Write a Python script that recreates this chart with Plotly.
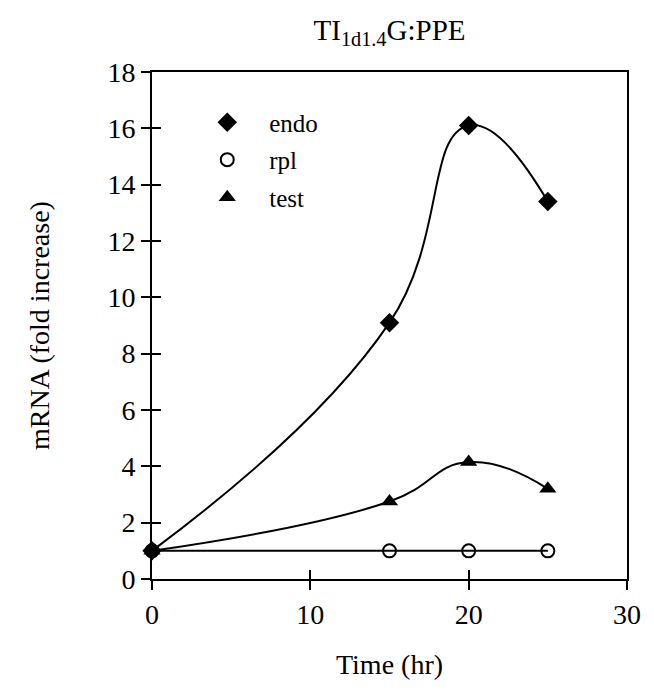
import plotly.graph_objects as go

time_hr = [0, 15, 20, 25]
endo = [1.0, 9.1, 16.1, 13.4]
rpl = [1.0, 1.0, 1.0, 1.0]
test = [1.0, 2.75, 4.15, 3.2]

x_ticks = [0, 10, 20, 30]
y_ticks = list(range(0, 19, 2))

FONT = "Liberation Serif"
fig = go.Figure()

series = [
    ("endo", endo, dict(symbol="diamond", size=15, color="black")),
    ("rpl", rpl, dict(symbol="circle-open", size=13, color="black", line=dict(width=2))),
    ("test", test, dict(symbol="triangle-up", size=15, color="black")),
]
for name, vals, mk in series:
    fig.add_trace(go.Scatter(
        x=time_hr, y=vals, mode="lines+markers", name=name,
        line=dict(shape="spline", smoothing=1.3, color="black", width=2),
        marker=mk, showlegend=False, cliponaxis=False))
for name, vals, mk in series:
    fig.add_trace(go.Scatter(
        x=[None], y=[None], mode="markers", name=name, marker=mk,
        legendgroup=name, showlegend=True))

axis_common = dict(showgrid=False, zeroline=False, color="black",
                   tickfont=dict(family=FONT, size=28, color="black"))
fig.update_layout(
    width=654, height=692,
    margin=dict(l=152, r=27, t=72, b=113),
    paper_bgcolor="white", plot_bgcolor="white",
    font=dict(family=FONT, color="black"),
    title=dict(text="TI<sub>1d1.4</sub>G:PPE", x=0.5, xref="paper",
               y=1 - 30 / 692, yanchor="middle", xanchor="center",
               font=dict(family=FONT, size=29, color="black")),
    xaxis=dict(range=[0, 30], tickvals=x_ticks, ticks="outside", ticklen=9,
               tickwidth=2, showline=True, linewidth=2, linecolor="black",
               mirror=True, title=dict(text="Time (hr)", font=dict(family=FONT, size=28),
                                        standoff=26), **axis_common),
    yaxis=dict(range=[0, 18], tickvals=y_ticks, ticks="outside", ticklen=9,
               tickwidth=2, showline=True, linewidth=2, linecolor="black",
               mirror=True, title=dict(text="mRNA (fold increase)",
                                        font=dict(family=FONT, size=28), standoff=50),
               **axis_common),
    xaxis2=dict(range=[0, 30], tickvals=x_ticks, ticks="inside", ticklen=9,
                tickwidth=2, showticklabels=False, showgrid=False, zeroline=False,
                overlaying="x", side="bottom", showline=False, tickcolor="black"),
    yaxis2=dict(range=[0, 18], tickvals=y_ticks, ticks="inside", ticklen=9,
                tickwidth=2, showticklabels=False, showgrid=False, zeroline=False,
                overlaying="y", side="left", showline=False, tickcolor="black"),
    legend=dict(x=0.07, y=0.946, xanchor="left", yanchor="top",
                font=dict(family=FONT, size=25, color="black"),
                itemwidth=74, tracegroupgap=2, traceorder="grouped",
                bgcolor="rgba(0,0,0,0)"),
)
fig.add_trace(go.Scatter(x=[None], y=[None], xaxis="x2", yaxis="y2", showlegend=False))
fig.write_html("out.html")
